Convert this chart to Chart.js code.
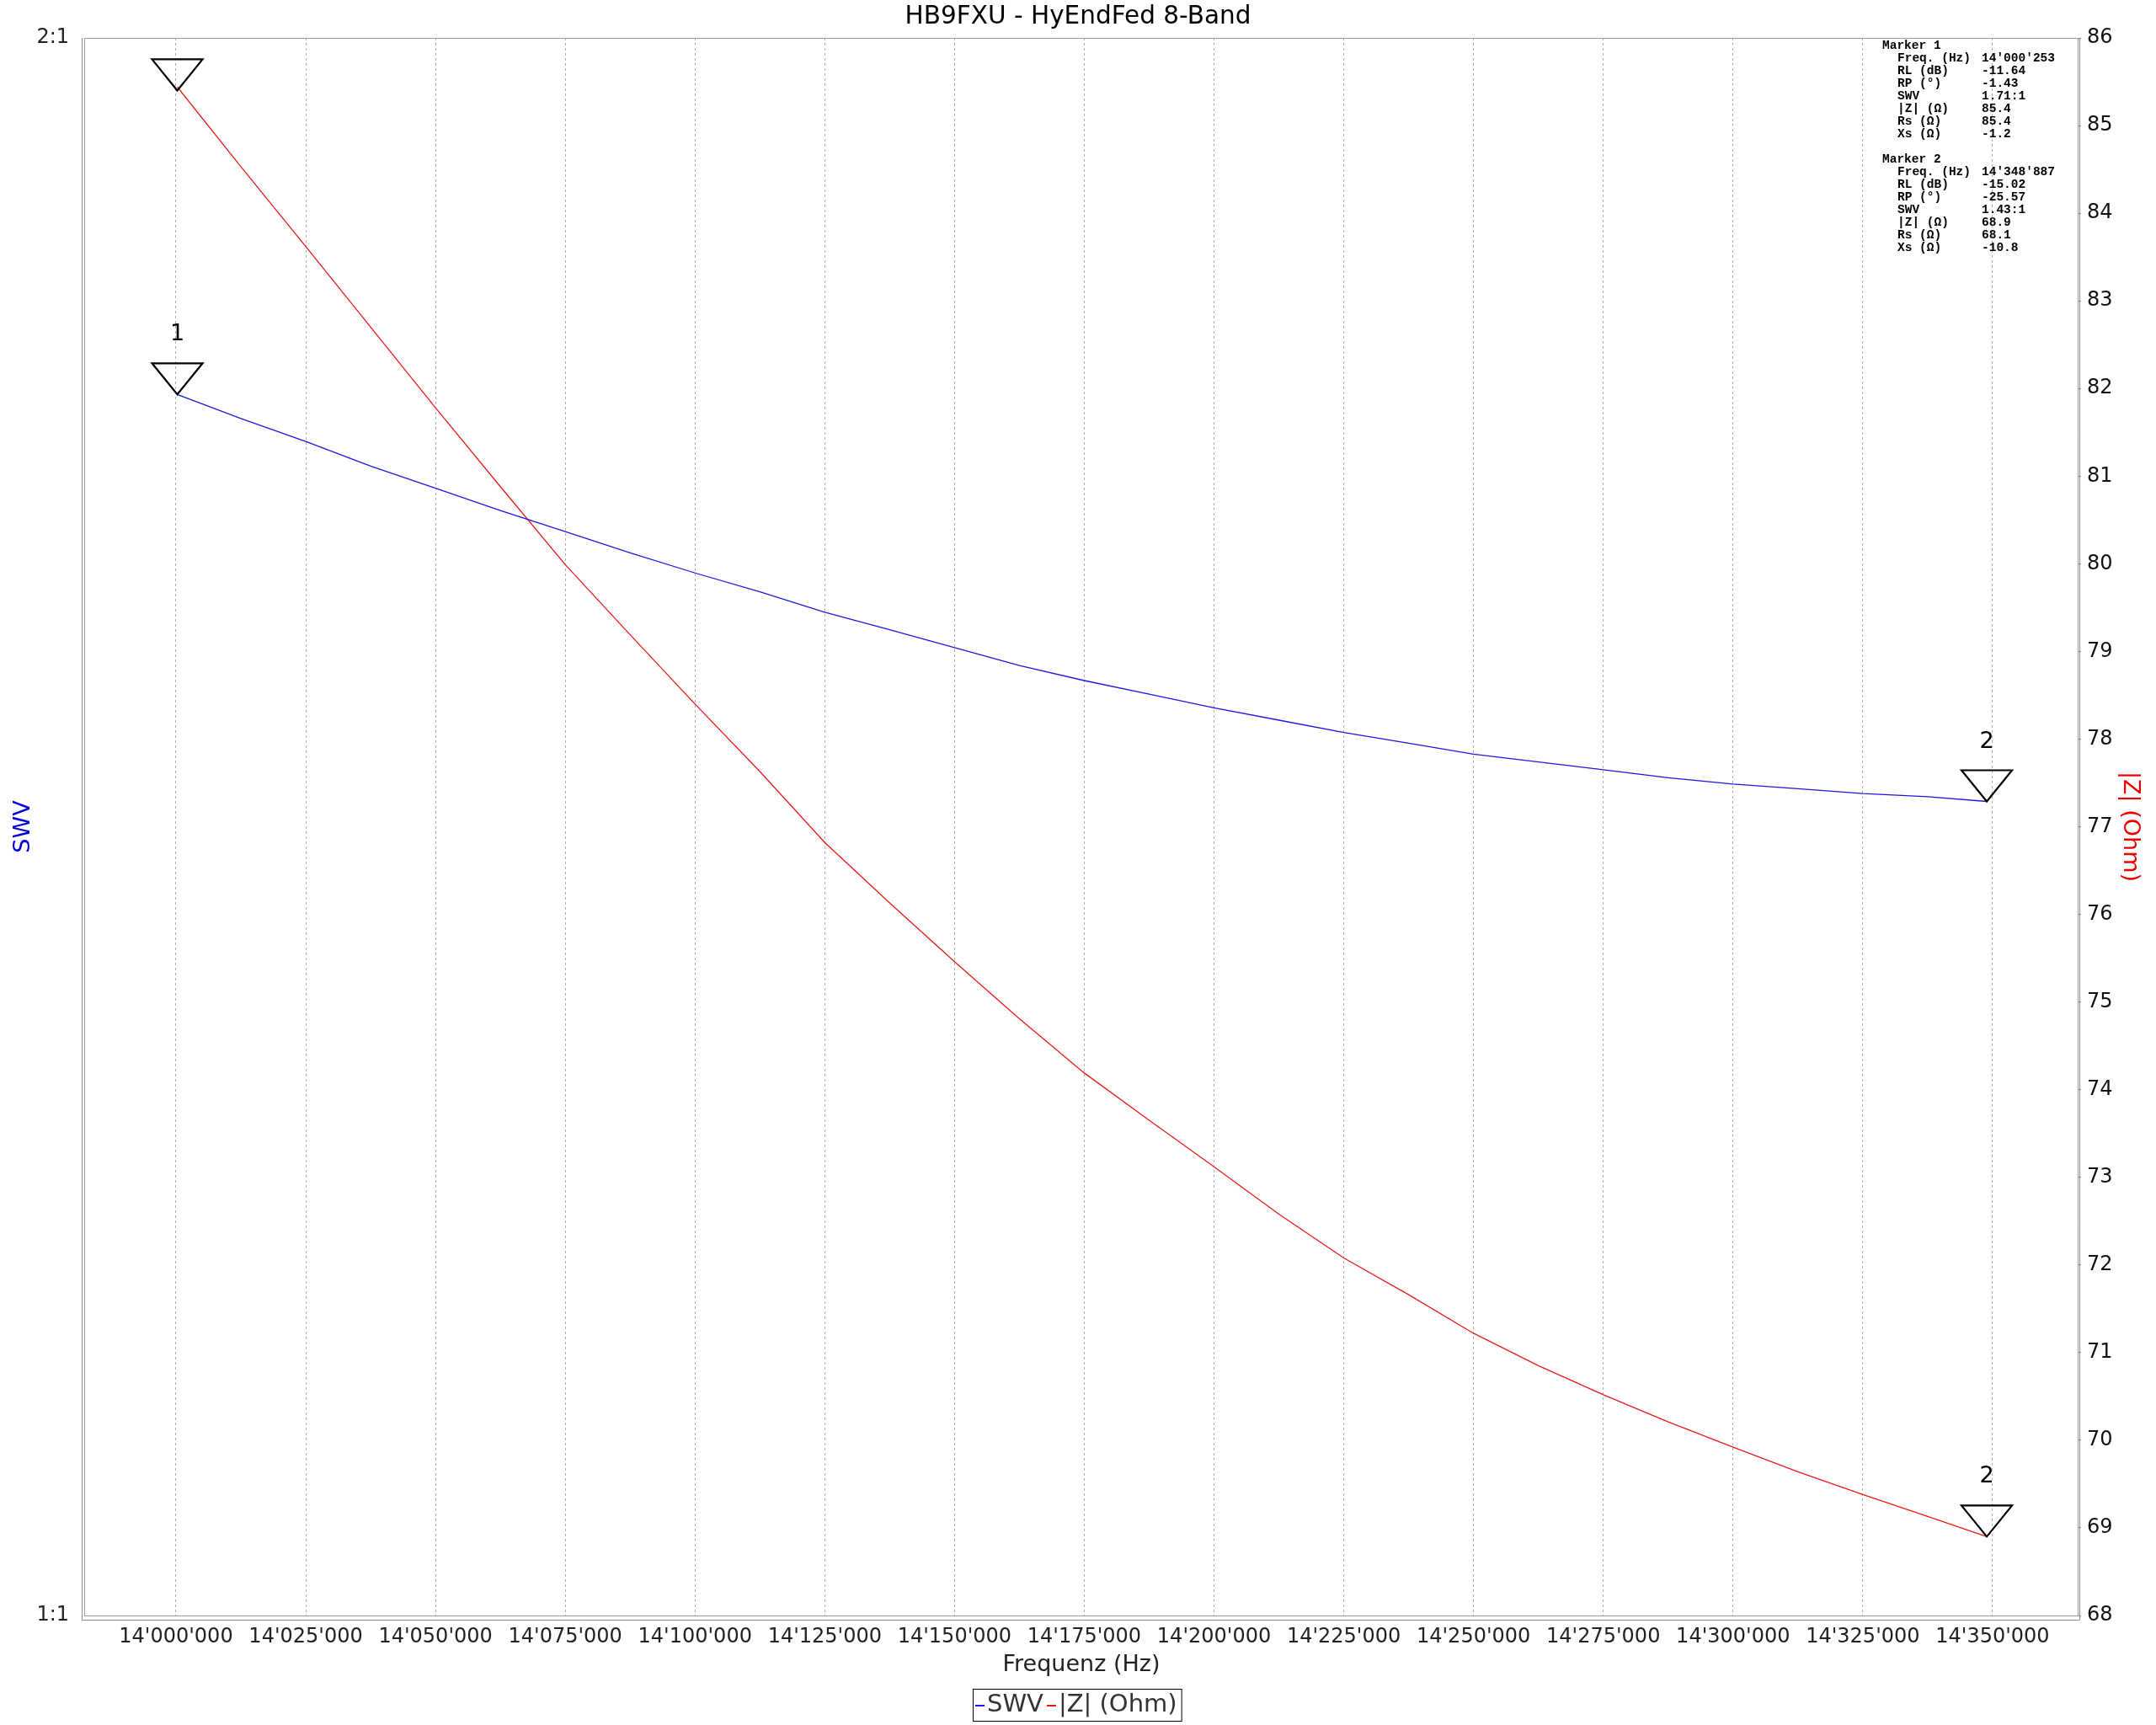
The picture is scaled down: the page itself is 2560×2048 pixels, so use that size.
<!DOCTYPE html>
<html>
<head>
<meta charset="utf-8">
<script src="https://cdn.jsdelivr.net/npm/chart.js@4/dist/chart.umd.min.js"></script>
<style>
html,body{margin:0;padding:0;background:#fff;}
canvas{display:block;}
</style>
</head>
<body>
<canvas id="c" width="2560" height="2048"></canvas>
<script>
// ---------------- data ----------------
const chartTitle = 'HB9FXU - HyEndFed 8-Band';
const xAxisTitle = 'Frequenz (Hz)';
const swvAxisTitle = 'SWV';
const zAxisTitle = '|Z| (Ohm)';

const freqHz = [14000253, 14012500, 14025000, 14037500, 14050000, 14062500, 14075000, 14087500,
                14100000, 14112500, 14125000, 14137500, 14150000, 14162500, 14175000, 14187500,
                14200000, 14212500, 14225000, 14237500, 14250000, 14262500, 14275000, 14287500,
                14300000, 14312500, 14325000, 14337500, 14348887];
const swvValues = [1.710, 1.692, 1.675, 1.657, 1.641, 1.625, 1.610, 1.595,
                   1.581, 1.568, 1.554, 1.542, 1.530, 1.518, 1.508, 1.499,
                   1.490, 1.482, 1.474, 1.467, 1.460, 1.455, 1.450, 1.445,
                   1.441, 1.438, 1.435, 1.433, 1.430];
const zValues = [85.44, 84.53, 83.62, 82.70, 81.78, 80.88, 79.99, 79.19,
                 78.40, 77.63, 76.82, 76.13, 75.46, 74.81, 74.19, 73.65,
                 73.12, 72.58, 72.08, 71.66, 71.22, 70.85, 70.52, 70.21,
                 69.92, 69.64, 69.38, 69.13, 68.90];

const xTicks = [14000000, 14025000, 14050000, 14075000, 14100000, 14125000, 14150000, 14175000,
                14200000, 14225000, 14250000, 14275000, 14300000, 14325000, 14350000];
const swvTicks = [1, 2];
const swvTickLabels = ['1:1', '2:1'];
const zTicks = [68, 69, 70, 71, 72, 73, 74, 75, 76, 77, 78, 79, 80, 81, 82, 83, 84, 85, 86];

const xMin = 13982480, xMax = 14366400;
const swvMin = 1, swvMax = 2;
const zMin = 68, zMax = 86;

const markerNames = ['1', '2'];
const markerFreq = [14000253, 14348887];
const markerSwv = [1.71, 1.43];
const markerZ = [85.4, 68.9];

const infoLabels = ['Freq. (Hz)', 'RL (dB)', 'RP (°)', 'SWV', '|Z| (Ω)', 'Rs (Ω)', 'Xs (Ω)'];
const marker1Info = ["14'000'253", '-11.64', '-1.43', '1.71:1', '85.4', '85.4', '-1.2'];
const marker2Info = ["14'348'887", '-15.02', '-25.57', '1.43:1', '68.9', '68.1', '-10.8'];

// ---------------- styles ----------------
const FONT = "'DejaVu Sans', 'Lucida Grande', Verdana, sans-serif";
const MONO = "'Liberation Mono', 'Courier New', monospace";
const SWV_COLOR = 'rgb(25,25,225)';
const Z_COLOR = 'rgb(232,25,25)';
const SWV_TEXT = 'rgb(0,0,220)';
const Z_TEXT = 'rgb(235,0,0)';

function fmtHz(v) {
  return String(Math.round(v)).replace(/\B(?=(\d{3})+(?!\d))/g, "'");
}

Chart.defaults.font.family = FONT;
Chart.defaults.color = '#000';

const framePlugin = {
  id: 'frame',
  beforeDatasetsDraw(chart) {
    const {ctx, chartArea: a} = chart;
    ctx.save();
    ctx.strokeStyle = '#9a9a9a';
    ctx.lineWidth = 1;
    ctx.strokeRect(a.left - 0.5, a.top + 0.5, a.right - a.left + 1, a.bottom - a.top);
    ctx.strokeStyle = '#8a8a8a';
    ctx.beginPath();
    ctx.moveTo(a.left - 3.5, a.top);
    ctx.lineTo(a.left - 3.5, a.bottom + 5.5);
    ctx.lineTo(a.right + 2.5, a.bottom + 5.5);
    ctx.lineTo(a.right + 2.5, a.top);
    ctx.stroke();
    ctx.restore();
  }
};

const markerPlugin = {
  id: 'markers',
  afterDatasetsDraw(chart) {
    const {ctx, chartArea: a} = chart;
    const xs = chart.scales.x;
    ctx.save();
    ctx.strokeStyle = '#000';
    ctx.fillStyle = '#000';
    ctx.lineWidth = 2.2;
    ctx.lineJoin = 'miter';
    ctx.font = '27px ' + FONT;
    ctx.textAlign = 'center';
    ctx.textBaseline = 'middle';
    markerFreq.forEach((f, i) => {
      const pairs = [[chart.scales.y, markerSwv[i]], [chart.scales.y1, markerZ[i]]];
      pairs.forEach(([sc, v]) => {
        const px = xs.getPixelForValue(f);
        const py = sc.getPixelForValue(v);
        ctx.beginPath();
        ctx.moveTo(px, py);
        ctx.lineTo(px - 30, py - 37);
        ctx.lineTo(px + 30, py - 37);
        ctx.closePath();
        ctx.stroke();
        const ly = py - 37 - 34;
        if (ly - 14 > a.top) ctx.fillText(markerNames[i], px, ly);
      });
    });
    ctx.restore();
  }
};

const infoPlugin = {
  id: 'info',
  afterDraw(chart) {
    const {ctx, chartArea: a} = chart;
    ctx.save();
    ctx.font = 'bold 14.5px ' + MONO;
    ctx.fillStyle = '#000';
    ctx.textBaseline = 'middle';
    ctx.textAlign = 'left';
    const xHead = a.right - 232, xLab = a.right - 214, xVal = a.right - 114;
    let y = a.top + 9;
    [marker1Info, marker2Info].forEach((vals, m) => {
      ctx.fillText('Marker ' + markerNames[m], xHead, y);
      y += 15;
      infoLabels.forEach((lab, k) => {
        ctx.fillText(lab, xLab, y);
        ctx.fillText(vals[k], xVal, y);
        y += 15;
      });
      y += 15;
    });
    ctx.restore();
  }
};

const legendPlugin = {
  id: 'customLegend',
  afterDraw(chart) {
    const {ctx} = chart;
    ctx.save();
    ctx.font = '29px ' + FONT;
    ctx.textBaseline = 'middle';
    ctx.textAlign = 'left';
    const items = chart.data.datasets.map(d => ({text: d.label, color: d.borderColor, w: ctx.measureText(d.label).width}));
    const lineW = 12, gap = 3, padL = 2, padR = 5, between = 3;
    let total = padL + padR;
    items.forEach((it, i) => { total += lineW + gap + it.w + (i ? between : 0); });
    const cx = 1279, cy = 2024;
    const x0 = Math.round(cx - total / 2);
    ctx.strokeStyle = '#000';
    ctx.lineWidth = 1;
    ctx.strokeRect(x0 + 0.5, 2005.5, total, 38);
    let x = x0 + padL;
    items.forEach((it, i) => {
      if (i) x += between;
      ctx.strokeStyle = it.color;
      ctx.lineWidth = 2;
      ctx.beginPath();
      ctx.moveTo(x + 1, cy + 1);
      ctx.lineTo(x + lineW, cy + 1);
      ctx.stroke();
      x += lineW + gap;
      ctx.fillStyle = '#333';
      ctx.fillText(it.text, x, cy);
      x += it.w;
    });
    ctx.restore();
  }
};

new Chart(document.getElementById('c').getContext('2d'), {
  type: 'line',
  data: {
    datasets: [
      {
        label: 'SWV',
        data: freqHz.map((f, i) => ({x: f, y: swvValues[i]})),
        yAxisID: 'y',
        borderColor: SWV_COLOR,
        borderWidth: 1.3,
        pointRadius: 0,
        tension: 0,
        fill: false
      },
      {
        label: '|Z| (Ohm)',
        data: freqHz.map((f, i) => ({x: f, y: zValues[i]})),
        yAxisID: 'y1',
        borderColor: Z_COLOR,
        borderWidth: 1.3,
        pointRadius: 0,
        tension: 0,
        fill: false
      }
    ]
  },
  options: {
    responsive: false,
    animation: false,
    devicePixelRatio: 1,
    layout: {padding: {top: 0, left: 0, right: 0, bottom: 48}},
    plugins: {
      legend: {display: false},
      tooltip: {enabled: false},
      title: {
        display: true,
        text: chartTitle,
        color: '#000',
        font: {size: 29.5, weight: 'normal', family: FONT},
        padding: {top: 3, bottom: 6.6}
      }
    },
    scales: {
      x: {
        type: 'linear',
        position: 'bottom',
        min: xMin,
        max: xMax,
        afterBuildTicks: s => { s.ticks = xTicks.map(v => ({value: v})); },
        afterFit: s => { s.height = 82; },
        ticks: {
          font: {size: 24},
          color: '#222',
          padding: 11,
          maxRotation: 0,
          autoSkip: false,
          callback: v => fmtHz(v)
        },
        grid: {display: true, drawOnChartArea: true, drawTicks: false, color: '#b0b0b0', lineWidth: 1},
        border: {display: false, dash: [3, 3]},
        title: {display: true, text: xAxisTitle, color: '#222', font: {size: 27}, padding: {top: 0, bottom: 7}}
      },
      y: {
        type: 'logarithmic',
        position: 'left',
        min: swvMin,
        max: swvMax,
        afterBuildTicks: s => { s.ticks = swvTicks.map(v => ({value: v})); },
        afterFit: s => { s.width = 101; },
        ticks: {
          font: {size: 24},
          color: '#222',
          padding: 11,
          callback: (v) => swvTickLabels[swvTicks.indexOf(v)]
        },
        grid: {display: false},
        border: {display: false},
        title: {display: true, text: swvAxisTitle, color: SWV_TEXT, font: {size: 27}, padding: {top: 11.8, bottom: 0}}
      },
      y1: {
        type: 'linear',
        position: 'right',
        min: zMin,
        max: zMax,
        afterBuildTicks: s => { s.ticks = zTicks.map(v => ({value: v})); },
        afterFit: s => { s.width = 93; },
        ticks: {font: {size: 24}, color: '#111', padding: 7},
        grid: {display: true, drawOnChartArea: false, drawTicks: true, tickLength: 4, color: '#888'},
        border: {display: false},
        title: {display: true, text: zAxisTitle, color: Z_TEXT, font: {size: 27}, padding: {top: 14.8, bottom: 0}}
      }
    }
  },
  plugins: [framePlugin, markerPlugin, infoPlugin, legendPlugin]
});
</script>
</body>
</html>
